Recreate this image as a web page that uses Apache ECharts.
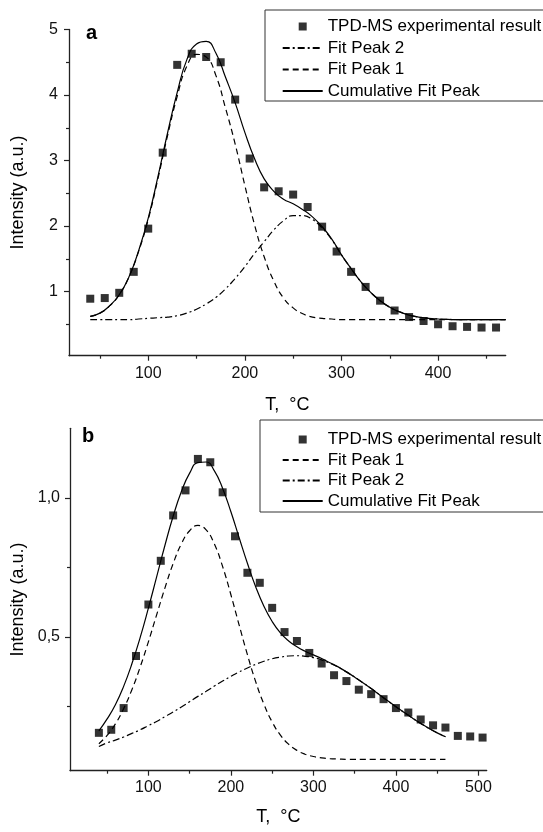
<!DOCTYPE html>
<html><head><meta charset="utf-8">
<script src="https://cdn.jsdelivr.net/npm/echarts@6/dist/echarts.min.js"></script>
<style>html,body{margin:0;padding:0;background:#fff}#c{width:543px;height:832px}</style>
</head><body><div id="c"></div>
<script>
// ---------- Panel a ----------
const expA_T = [40,55,70,85,100,115,130,145,160,175,190,205,220,235,250,265,280,295,310,325,340,355,370,385,400,415,430,445,460];
const expA_I = [0.89,0.90,0.98,1.30,1.96,3.12,4.46,4.63,4.58,4.50,3.93,3.03,2.59,2.53,2.48,2.29,1.99,1.61,1.30,1.07,0.86,0.71,0.61,0.55,0.50,0.47,0.46,0.45,0.45];
const fitA_T = [40,50,60,70,80,90,100,110,120,130,140,150,160,170,180,190,200,210,220,230,240,250,260,270,280,290,300,310,320,330,340,350,360,370,380,390,400,410,420,430,440,450,460,470];
const peak1A = [0.62,0.67,0.78,0.95,1.22,1.61,2.10,2.72,3.38,3.98,4.44,4.62,4.58,4.30,3.80,3.25,2.62,2.02,1.53,1.16,0.90,0.75,0.66,0.61,0.59,0.58,0.57,0.57,0.57,0.57,0.57,0.57,0.57,0.57,0.57,0.57,0.57,0.57,0.57,0.57,0.57,0.57,0.57,0.57];
const peak2A = [0.57,0.57,0.57,0.57,0.57,0.58,0.59,0.60,0.61,0.63,0.67,0.73,0.81,0.91,1.04,1.20,1.38,1.58,1.76,1.94,2.08,2.16,2.16,2.10,1.97,1.79,1.56,1.35,1.15,0.99,0.86,0.76,0.69,0.64,0.61,0.59,0.58,0.575,0.57,0.57,0.57,0.57,0.57,0.57];
const cumA   = [0.62,0.67,0.78,0.95,1.22,1.62,2.12,2.75,3.42,4.04,4.54,4.78,4.82,4.64,4.27,3.88,3.43,3.03,2.72,2.53,2.41,2.34,2.25,2.14,1.99,1.80,1.56,1.35,1.15,0.99,0.86,0.76,0.69,0.64,0.61,0.59,0.58,0.575,0.57,0.57,0.57,0.57,0.57,0.57];
const xTicksA = [100,200,300,400];
const xMinorA = [50,150,250,350,450];
const yTicksA = [1,2,3,4,5];
const yMinorA = [0.5,1.5,2.5,3.5,4.5];

// ---------- Panel b ----------
const expB_T = [40,55,70,85,100,115,130,145,160,175,190,205,220,235,250,265,280,295,310,325,340,355,370,385,400,415,430,445,460,475,490,505];
const expB_I = [0.156,0.167,0.245,0.432,0.617,0.774,0.937,1.027,1.140,1.128,1.020,0.862,0.731,0.695,0.605,0.518,0.486,0.443,0.405,0.363,0.342,0.311,0.295,0.277,0.245,0.229,0.204,0.183,0.175,0.145,0.143,0.139];
const fitB_T = [40,50,60,70,80,90,100,110,120,130,140,150,160,170,180,190,200,210,220,230,240,250,260,270,280,290,300,310,320,330,340,350,360,370,380,390,400,410,420,430,440,450,460];
const peak1B = [0.117,0.147,0.188,0.243,0.311,0.392,0.483,0.580,0.676,0.764,0.835,0.882,0.901,0.885,0.834,0.753,0.652,0.543,0.437,0.340,0.259,0.195,0.148,0.115,0.093,0.079,0.071,0.066,0.063,0.062,0.061,0.061,0.061,0.061,0.061,0.061,0.061,0.061,0.061,0.061,0.061,0.061,0.061];
const peak2B = [0.107,0.120,0.130,0.141,0.154,0.167,0.182,0.197,0.214,0.231,0.249,0.268,0.287,0.305,0.324,0.342,0.359,0.375,0.389,0.402,0.413,0.422,0.428,0.432,0.433,0.431,0.426,0.418,0.406,0.392,0.375,0.356,0.336,0.315,0.293,0.271,0.250,0.229,0.209,0.190,0.172,0.156,0.142];
const cumB   = [0.163,0.206,0.257,0.323,0.404,0.498,0.604,0.716,0.829,0.934,1.023,1.089,1.127,1.129,1.097,1.034,0.950,0.857,0.765,0.681,0.611,0.556,0.515,0.486,0.465,0.449,0.436,0.423,0.408,0.393,0.375,0.356,0.336,0.315,0.293,0.271,0.250,0.229,0.209,0.190,0.172,0.156,0.142];
const xTicksB = [100,200,300,400,500];
const xMinorB = [50,150,250,350,450];
const yTicksB = [0.5,1.0];
const yMinorB = [0.25,0.75];

const NAMES = ['TPD-MS experimental result','Fit Peak 1','Fit Peak 2','Cumulative Fit Peak'];
const FONT = 'Liberation Sans, Arial, sans-serif';
const AX = '#222';

function zip(xs, ys){ return xs.map((x,i)=>[x, ys[i]]); }

function mainAxis(gridIndex, min, max, ticks, extra){
  return Object.assign({
    type:'value', gridIndex, min, max,
    axisLine:{show:true, onZero:false, lineStyle:{color:AX, width:1.3}},
    axisTick:{show:true, inside:false, length:5, customValues:ticks, lineStyle:{color:AX, width:1.2}},
    axisLabel:{show:true, customValues:ticks, fontSize:16, color:'#111', fontFamily:FONT},
    splitLine:{show:false}
  }, extra||{});
}
function minorAxis(gridIndex, min, max, ticks, position){
  return {
    type:'value', gridIndex, min, max, position,
    axisLine:{show:false, onZero:false},
    axisTick:{show:true, inside:false, length:3, customValues:ticks, lineStyle:{color:AX, width:1.2}},
    axisLabel:{show:false},
    splitLine:{show:false}
  };
}

const lineStyles = {
  'Fit Peak 1': {color:'#000', width:1.2, type:[6,4]},
  'Fit Peak 2': {color:'#000', width:1.2, type:[7,3,2,3]},
  'Cumulative Fit Peak': {color:'#000', width:1.2, type:'solid'}
};
function lineSeries(name, xs, ys, xi, yi){
  return {type:'line', name, xAxisIndex:xi, yAxisIndex:yi, data:zip(xs,ys), smooth:true,
    showSymbol:false, symbol:'none', lineStyle:lineStyles[name], itemStyle:{color:'#000'}, silent:true, z:2};
}
function scatterSeries(xs, ys, xi, yi){
  return {type:'scatter', name:NAMES[0], xAxisIndex:xi, yAxisIndex:yi, data:zip(xs,ys),
    symbol:'rect', symbolSize:8, itemStyle:{color:'#000'}, silent:true, z:3};
}
function legendItem(name){
  if (name === NAMES[0]) return {name, icon:'path://M0,0h10v10h-10z', itemStyle:{color:'#000'}};
  return {name, itemStyle:{color:'rgba(0,0,0,0)', borderColor:'rgba(0,0,0,0)', borderWidth:0, opacity:0}};
}
function legend(left, top, padding, gap, names){
  return {orient:'vertical', left, top, padding, itemGap:gap, itemWidth:40, itemHeight:8,
    borderColor:'#333', borderWidth:1, selectedMode:false, symbolKeepAspect:true,
    data:names.map(legendItem),
    textStyle:{fontSize:17, color:'#000', fontFamily:FONT}};
}

const option = {
  animation:false,
  backgroundColor:'#fff',
  textStyle:{fontFamily:FONT},
  title:[
    {text:'a', left:86, top:23, padding:0, textStyle:{fontSize:20, fontWeight:'bold', color:'#000', fontFamily:FONT}},
    {text:'b', left:82, top:426, padding:0, textStyle:{fontSize:20, fontWeight:'bold', color:'#000', fontFamily:FONT}}
  ],
  grid:[
    {left:69, top:29.5, right:37.3, bottom:476.3},
    {left:70, top:428.3, right:56.3, bottom:61.3}
  ],
  legend:[
    legend(265, 10, [8,400,1.5,16.7], 4.5, [NAMES[0],NAMES[2],NAMES[1],NAMES[3]]),
    legend(260, 420, [11,400,2.5,21.7], 3.5, [NAMES[0],NAMES[1],NAMES[2],NAMES[3]])
  ],
  xAxis:[
    mainAxis(0, 18, 470, xTicksA, {position:'bottom', name:'T,  °C', nameLocation:'middle', nameGap:40,
      nameTextStyle:{fontSize:18, color:'#000', fontFamily:FONT}}),
    minorAxis(0, 18, 470, xMinorA, 'bottom'),
    mainAxis(1, 5, 510, xTicksB, {position:'bottom', name:'T,  °C', nameLocation:'middle', nameGap:37,
      nameTextStyle:{fontSize:18, color:'#000', fontFamily:FONT}}),
    minorAxis(1, 5, 510, xMinorB, 'bottom')
  ],
  yAxis:[
    mainAxis(0, 0.02, 5, yTicksA, {position:'left', name:'Intensity (a.u.)', nameLocation:'middle', nameGap:42,
      nameTextStyle:{fontSize:18, color:'#000', fontFamily:FONT}}),
    minorAxis(0, 0.02, 5, yMinorA, 'left'),
    mainAxis(1, 0.02, 1.25, yTicksB, {position:'left', name:'Intensity (a.u.)', nameLocation:'middle', nameGap:42,
      nameTextStyle:{fontSize:18, color:'#000', fontFamily:FONT}}),
    minorAxis(1, 0.02, 1.25, yMinorB, 'left')
  ],
  series:[
    scatterSeries(expA_T, expA_I, 0, 0),
    lineSeries('Fit Peak 2', fitA_T, peak2A, 0, 0),
    lineSeries('Fit Peak 1', fitA_T, peak1A, 0, 0),
    lineSeries('Cumulative Fit Peak', fitA_T, cumA, 0, 0),
    scatterSeries(expB_T, expB_I, 2, 2),
    lineSeries('Fit Peak 1', fitB_T, peak1B, 2, 2),
    lineSeries('Fit Peak 2', fitB_T, peak2B, 2, 2),
    lineSeries('Cumulative Fit Peak', fitB_T, cumB, 2, 2)
  ]
};
option.yAxis[2].axisLabel.formatter = v => v.toFixed(1).replace('.', ',');
option.yAxis[0].axisLabel.margin = 11;
option.yAxis[2].axisLabel.margin = 10;
option.xAxis[0].axisLabel.margin = 10;
option.xAxis[2].axisLabel.margin = 9;

const chart = echarts.init(document.getElementById('c'), null, {renderer:'canvas'});
chart.setOption(option);
</script></body></html>
